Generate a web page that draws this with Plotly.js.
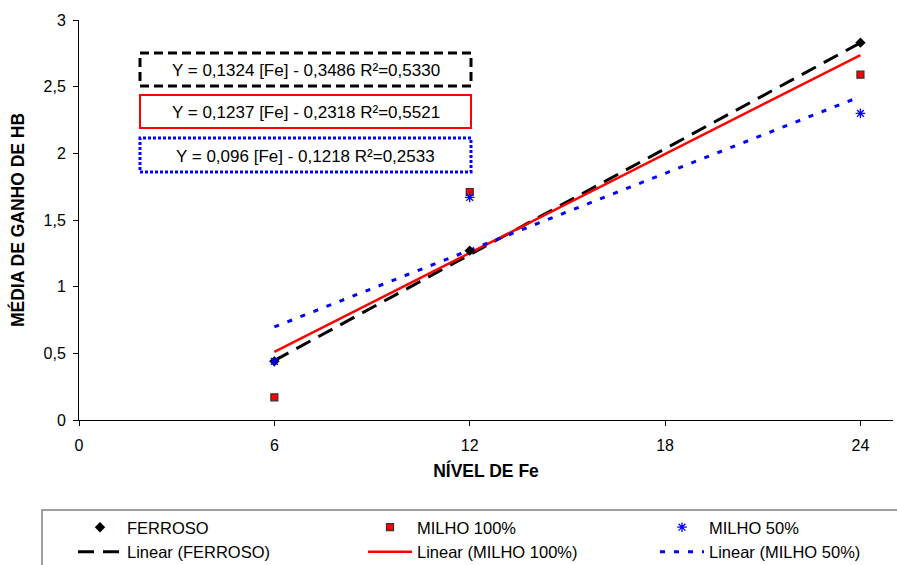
<!DOCTYPE html>
<html>
<head>
<meta charset="utf-8">
<script src="https://cdn.plot.ly/plotly-3.0.1.min.js"></script>
<style>
  html, body { margin: 0; padding: 0; background: #fff; }
  #chart { width: 897px; height: 565px; }
</style>
</head>
<body>
<div id="chart"></div>
<script>
// ---- data ----
const feLevels = [6, 12, 24];
const ferroso = [0.44, 1.27, 2.83];
const milho100 = [0.17, 1.71, 2.59];
const milho50 = [0.44, 1.67, 2.30];

const seriesNames = ["FERROSO", "MILHO 100%", "MILHO 50%"];
const trendNames = ["Linear (FERROSO)", "Linear (MILHO 100%)", "Linear (MILHO 50%)"];
const trendSlopes = [0.1324, 0.1237, 0.096];
const trendIntercepts = [-0.3486, -0.2318, 0.1218];
const equationLabels = [
  "Y = 0,1324 [Fe] - 0,3486 R²=0,5330",
  "Y = 0,1237 [Fe] - 0,2318 R²=0,5521",
  "Y = 0,096 [Fe] - 0,1218 R²=0,2533"
];
const xTickVals = [0, 6, 12, 18, 24];
const yTickVals = [0, 0.5, 1, 1.5, 2, 2.5, 3];

// ---- styles ----
const FONT = "Liberation Sans, Arial, sans-serif";
const W = 897, H = 565;
const lineStyles = [
  {color: "#000000", width: 3, dash: "16px,9px"},
  {color: "#ff0000", width: 2.5, dash: "solid"},
  {color: "#0000ff", width: 3, dash: "5px,9px"}
];
const markerStyles = [
  {symbol: "diamond", size: 8, color: "#000000"},
  {symbol: "square", size: 7, color: "#ff0000", line: {color: "#333333", width: 1.2}},
  {symbol: "asterisk-open", size: 8, color: "#0000ff", line: {color: "#0000ff", width: 1.3}}
];
const legendIds = ["legend", "legend2", "legend3"];
const seriesValues = [ferroso, milho100, milho50];

const xMin = Math.min(...feLevels), xMax = Math.max(...feLevels);
const traces = [];
// trend lines first (drawn underneath the markers)
for (let i = 0; i < 3; i++) {
  const xs = [xMin, xMax];
  traces.push({
    type: "scatter", mode: "lines", name: trendNames[i],
    x: xs, y: xs.map(v => trendSlopes[i] * v + trendIntercepts[i]),
    line: lineStyles[i], legend: legendIds[i], legendrank: 2,
    legendgroup: "t" + i, hoverinfo: "skip"
  });
}
for (let i = 0; i < 3; i++) {
  traces.push({
    type: "scatter", mode: "markers", name: seriesNames[i],
    x: feLevels, y: seriesValues[i],
    marker: markerStyles[i], legend: legendIds[i], legendrank: 1,
    legendgroup: "m" + i
  });
}

// pixel -> paper helpers (plot area: x 79..893, y 20..420)
const PL = 79, PW = 814, PT = 20, PH = 400;
const px = v => (v - PL) / PW;
const py = v => (PT + PH - v) / PH;

const boxTop = [53, 95, 138], boxBot = [86, 128, 172];
const boxLines = [
  {color: "#000000", width: 3, dash: "9px,5px"},
  {color: "#ff0000", width: 2, dash: "solid"},
  {color: "#0000ff", width: 3, dash: "3px,2px"}
];
const shapes = [];
const annotations = [];
for (let i = 0; i < 3; i++) {
  shapes.push({type: "rect", xref: "paper", yref: "paper",
    x0: px(140), x1: px(471), y0: py(boxBot[i]), y1: py(boxTop[i]),
    line: boxLines[i], fillcolor: "rgba(0,0,0,0)"});
  annotations.push({xref: "paper", yref: "paper", x: px(305.5), y: py((boxTop[i] + boxBot[i]) / 2 + 1),
    text: equationLabels[i], showarrow: false, xanchor: "center", yanchor: "middle",
    font: {family: FONT, size: 17, color: "#000"}});
}
// legend frame
shapes.push({type: "rect", xref: "paper", yref: "paper",
  x0: px(42), x1: px(905), y0: py(575), y1: py(510),
  line: {color: "#808080", width: 1.5}, fillcolor: "rgba(0,0,0,0)"});

const legendBase = {
  orientation: "v", xanchor: "left", yanchor: "top",
  bgcolor: "rgba(0,0,0,0)", borderwidth: 0, itemwidth: 44,
  tracegroupgap: 6, traceorder: "normal",
  font: {family: FONT, size: 16.5, color: "#000"}
};
const colX = [73, 363, 655];
const legTop = 510;

const layout = {
  width: W, height: H,
  margin: {l: PL, r: W - PL - PW, t: PT, b: H - PT - PH, autoexpand: false},
  paper_bgcolor: "#fff", plot_bgcolor: "#fff",
  separators: ",.",
  font: {family: FONT, color: "#000"},
  xaxis: {
    range: [0, 25], tickvals: xTickVals, ticks: "outside", ticklen: 5, tickwidth: 1,
    tickcolor: "#000", showline: true, linecolor: "#000", linewidth: 1,
    showgrid: false, zeroline: false, ticklabelstandoff: 6,
    tickfont: {family: FONT, size: 16, color: "#000"},
    title: {text: "NÍVEL DE Fe", standoff: 11,
      font: {family: FONT, size: 17.5, weight: 700, color: "#000"}}
  },
  yaxis: {
    range: [0, 3], tickvals: yTickVals, ticks: "outside", ticklen: 5, tickwidth: 1,
    tickcolor: "#000", showline: true, linecolor: "#000", linewidth: 1,
    showgrid: false, zeroline: false, ticklabelstandoff: 4,
    tickfont: {family: FONT, size: 16, color: "#000"},
    title: {text: "MÉDIA DE GANHO DE HB", standoff: 14,
      font: {family: FONT, size: 17.5, weight: 700, color: "#000"}}
  },
  legend: Object.assign({}, legendBase, {x: px(colX[0]), y: py(legTop)}),
  legend2: Object.assign({}, legendBase, {x: px(colX[1]), y: py(legTop)}),
  legend3: Object.assign({}, legendBase, {x: px(colX[2]), y: py(legTop)}),
  shapes: shapes,
  annotations: annotations
};

Plotly.newPlot("chart", traces, layout, {displayModeBar: false, staticPlot: true});
</script>
</body>
</html>
